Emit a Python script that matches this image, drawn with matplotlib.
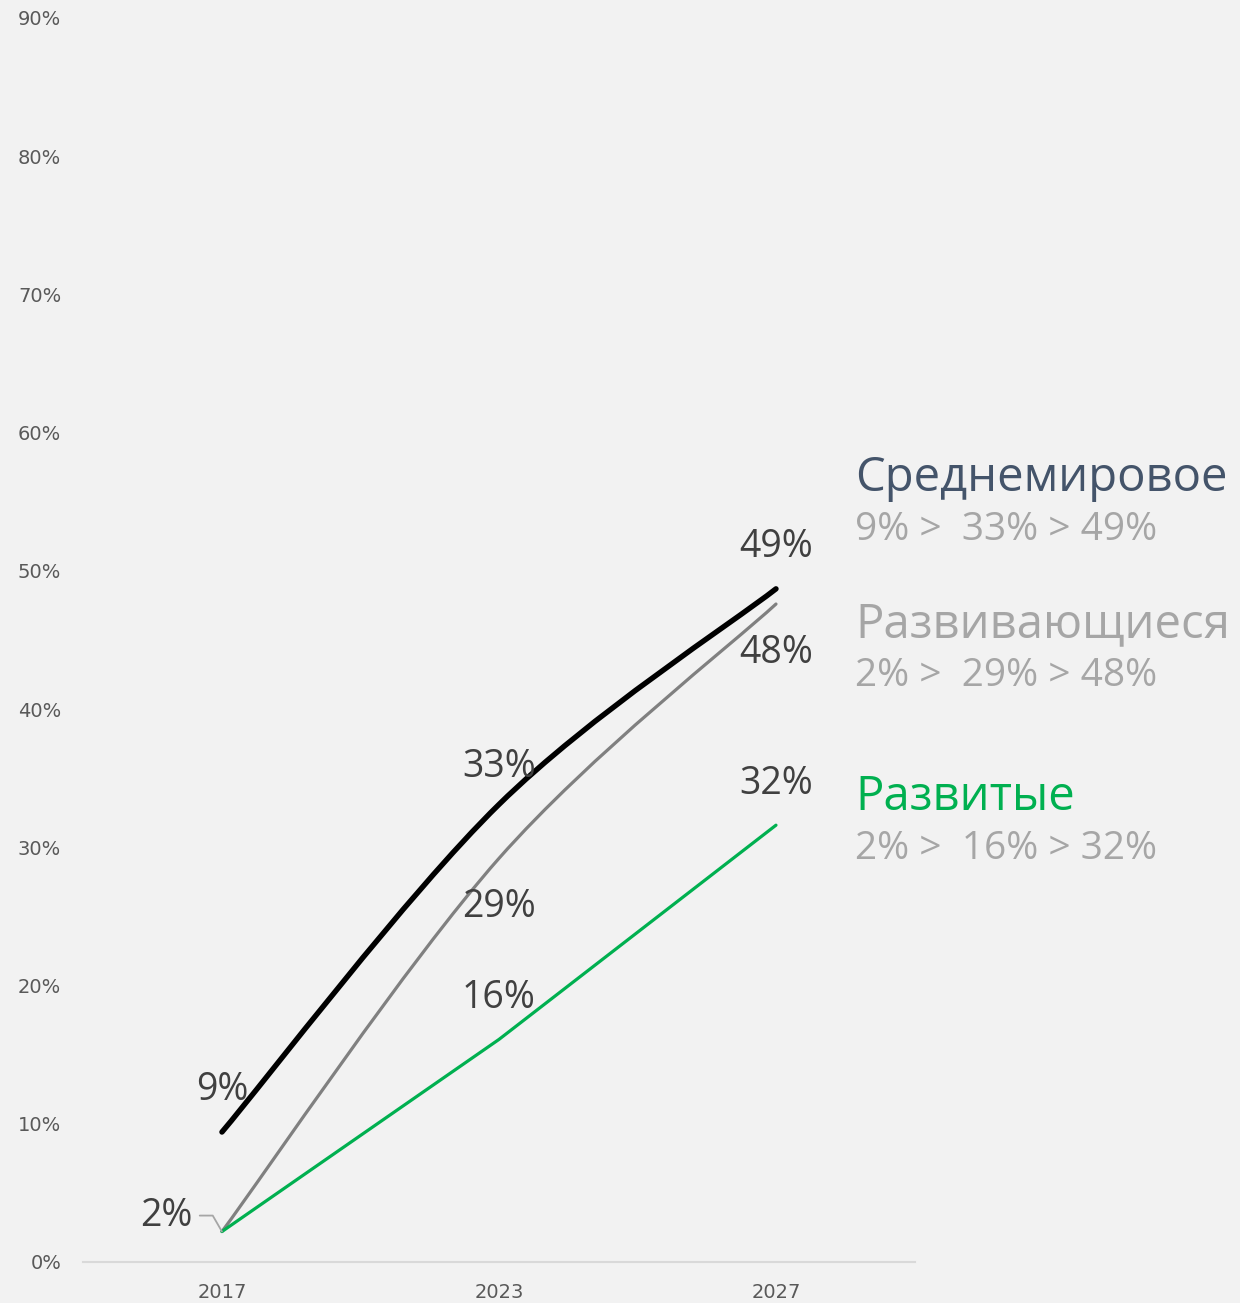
import numpy as np
import matplotlib
matplotlib.use("Agg")
import matplotlib.pyplot as plt
from matplotlib.path import Path
from matplotlib.patches import PathPatch

# Data (share of total, %)
years = ["2017", "2023", "2027"]
world = [9.4, 33.1, 48.7]        # Среднемировое
developing = [2.2, 29.2, 47.6]   # Развивающиеся
developed = [2.2, 16.1, 31.6]    # Развитые
world_lbl = ["9%", "33%", "49%"]
developing_lbl = ["2%", "29%", "48%"]
developed_lbl = ["2%", "16%", "32%"]
yticks = [0, 10, 20, 30, 40, 50, 60, 70, 80, 90]

BG = "#f2f2f2"
LABEL = "#404040"
plt.rcParams["font.family"] = ["Open Sans", "DejaVu Sans"]


def smooth_path(xs, ys):
    """Excel-style smoothed line as cubic Bezier path."""
    pts = np.column_stack([xs, ys]).astype(float)
    n = len(pts)
    verts = [pts[0]]
    codes = [Path.MOVETO]
    for i in range(n - 1):
        p0 = pts[max(i - 1, 0)]
        p1 = pts[i]
        p2 = pts[i + 1]
        p3 = pts[min(i + 2, n - 1)]
        c1 = p1 + (p2 - p0) / 6
        c2 = p2 - (p3 - p1) / 6
        verts += [c1, c2, p2]
        codes += [Path.CURVE4] * 3
    return Path(verts, codes)


fig = plt.figure(figsize=(12.4, 13.03), dpi=100, facecolor=BG)
ax = fig.add_axes([0.0673, 0.0315, 0.6702, 0.9547], facecolor=BG)
x = np.arange(len(years))

ax.add_patch(PathPatch(smooth_path(x, developing), fill=False, edgecolor="#808080",
                       lw=2.3, capstyle="round", zorder=3))
ax.add_patch(PathPatch(smooth_path(x, world), fill=False, edgecolor="#000000",
                       lw=3.9, capstyle="round", zorder=4))
ax.plot(x, developed, color="#00b050", lw=2.3, solid_capstyle="round", zorder=3)

ax.set_xlim(-0.5, 2.5)
ax.set_ylim(0, 90)
ax.set_xticks(x)
ax.set_xticklabels(years)
ax.set_yticks(yticks)
ax.set_yticklabels([f"{v}%" for v in yticks])
ax.tick_params(axis="both", length=0, labelsize=14, colors="#595959",
               labelfontfamily="DejaVu Sans")
ax.tick_params(axis="y", pad=16)
ax.tick_params(axis="x", pad=15)
for s in ["top", "right", "left"]:
    ax.spines[s].set_visible(False)
ax.spines["bottom"].set_color("#d9d9d9")
ax.spines["bottom"].set_linewidth(1.5)

fs = 27
# data labels (offsets in points)
def lab(xi, yi, txt, dy, dx=0):
    ax.annotate(txt, (xi, yi), xytext=(dx, dy), textcoords="offset points",
                ha="center", va="center", fontsize=fs, color=LABEL, zorder=5)

lab(0, world[0], world_lbl[0], 30)
lab(1, world[1], world_lbl[1], 27)
lab(2, world[2], world_lbl[2], 30)
lab(1, developing[1], developing_lbl[1], -35)
lab(2, developing[2], developing_lbl[2], -35)
lab(1, developed[1], developed_lbl[1], 30)
lab(2, developed[2], developed_lbl[2], 30)
lab(0, developing[0], developing_lbl[0], 11, dx=-40)

# leader line for the 2% label
ax.annotate("", xy=(0, developing[0]), xytext=(-16, 11.5), textcoords="offset points",
            arrowprops=dict(arrowstyle="-", color="#a6a6a6", lw=1.3,
                            connectionstyle="angle,angleA=0,angleB=120,rad=0",
                            shrinkA=0, shrinkB=0))

# legend block on the right
def legend(y_title, y_sub, title, color, vals):
    fig.text(0.6895, y_title, title, fontsize=34, color=color, ha="left", va="center")
    fig.text(0.6895, y_sub, f"{vals[0]} >  {vals[1]} > {vals[2]}", fontsize=28,
             color="#a6a6a6", ha="left", va="center")

legend(0.6331, 0.5932, "Среднемировое", "#44546a", world_lbl)
legend(0.5211, 0.4812, "Развивающиеся", "#a6a6a6", developing_lbl)
legend(0.3883, 0.3484, "Развитые", "#00b050", developed_lbl)

fig.savefig("out.png", dpi=100, facecolor=BG)
